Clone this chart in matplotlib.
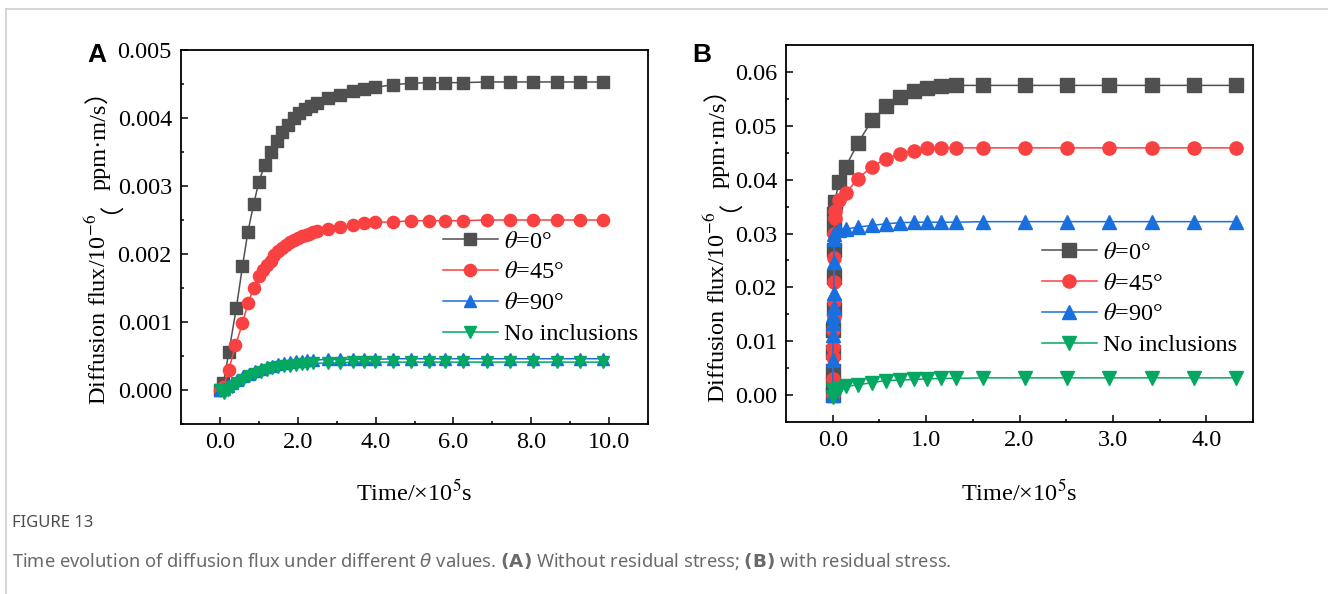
import matplotlib
matplotlib.use("Agg")
import matplotlib.pyplot as plt
from matplotlib.ticker import MultipleLocator, FormatStrFormatter
from matplotlib.lines import Line2D

plt.rcParams.update({
    "font.family": ["Liberation Serif", "Noto Sans CJK SC"],
    "mathtext.fontset": "stix",
    "axes.linewidth": 1.3,
})

# ---- data: panel A (without residual stress), time in 1e5 s ----
tA_0 = [0, 0.09, 0.23, 0.42, 0.58, 0.72, 0.87, 1.0, 1.15, 1.31, 1.46, 1.6, 1.75, 1.9,
        2.04, 2.19, 2.34, 2.49, 2.78, 3.08, 3.41, 3.69, 3.99, 4.44, 4.91, 5.36, 5.79,
        6.24, 6.87, 7.46, 8.04, 8.66, 9.25, 9.84]
fA_0 = [0, 0.0001, 0.00056, 0.0012, 0.00182, 0.00233, 0.00274, 0.00306, 0.00331, 0.0035,
        0.00366, 0.0038, 0.0039, 0.004, 0.00407, 0.00413, 0.00417, 0.00422, 0.00429,
        0.00434, 0.00439, 0.00443, 0.00445, 0.00449, 0.00451, 0.00452, 0.00452, 0.00452,
        0.00453, 0.00453, 0.00453, 0.00453, 0.00453, 0.00453]

tA_45 = [0, 0.09, 0.23, 0.40, 0.58, 0.72, 0.87, 1.0, 1.1, 1.2, 1.3, 1.4, 1.5, 1.6, 1.7,
         1.8, 1.9, 2.0, 2.1, 2.2, 2.3, 2.4, 2.5, 2.78, 3.08, 3.41, 3.69, 3.99, 4.44, 4.91,
         5.36, 5.79, 6.24, 6.87, 7.46, 8.04, 8.66, 9.25, 9.84]
fA_45 = [0, 0.00005, 0.0003, 0.00066, 0.00098, 0.00128, 0.0015, 0.00167, 0.00176, 0.00184,
         0.0019, 0.00198, 0.00204, 0.00209, 0.00213, 0.00217, 0.0022, 0.00223, 0.00226,
         0.00228, 0.0023, 0.00232, 0.00234, 0.00237, 0.0024, 0.00242, 0.00245, 0.00247,
         0.00247, 0.00249, 0.00249, 0.00249, 0.00249, 0.0025, 0.0025, 0.0025, 0.0025,
         0.0025, 0.0025]

tA_low = [0, 0.1, 0.2, 0.3, 0.45, 0.6, 0.75, 0.9, 1.05, 1.2, 1.35, 1.5, 1.65, 1.8, 1.95,
          2.1, 2.25, 2.4, 2.78, 3.08, 3.41, 3.69, 3.99, 4.44, 4.91, 5.36, 5.79, 6.24,
          6.87, 7.46, 8.04, 8.66, 9.25, 9.84]
fA_90 = [0, 0.00002, 0.00006, 0.0001, 0.00015, 0.0002, 0.00024, 0.00028, 0.00031, 0.00034,
         0.00036, 0.00038, 0.0004, 0.00041, 0.00042, 0.00043, 0.00044, 0.00044, 0.00045,
         0.00045, 0.00045, 0.00045, 0.00045, 0.00046, 0.00046, 0.00046, 0.00046, 0.00046,
         0.00046, 0.00046, 0.00046, 0.00046, 0.00046, 0.00046]
fA_ni = [0, -0.00004, 0.0, 0.00005, 0.0001, 0.00015, 0.0002, 0.00024, 0.00027, 0.0003,
         0.00032, 0.00034, 0.00035, 0.00036, 0.00037, 0.00038, 0.00038, 0.00039, 0.0004,
         0.0004, 0.00041, 0.00041, 0.00041, 0.00041, 0.00041, 0.00041, 0.00041, 0.00041,
         0.00041, 0.00041, 0.00041, 0.00041, 0.00041, 0.00041]

# ---- data: panel B (with residual stress) ----
tB_tail = [0.07, 0.14, 0.27, 0.42, 0.57, 0.72, 0.87, 1.01, 1.16, 1.32, 1.61, 2.06, 2.51,
           2.96, 3.42, 3.87, 4.32]
tB_0 = [0, 0.002, 0.004, 0.006, 0.008, 0.01, 0.012, 0.014, 0.016, 0.018, 0.02] + tB_tail
fB_0 = [0, 0.002, 0.0045, 0.008, 0.012, 0.016, 0.022, 0.027, 0.031, 0.0336, 0.0359,
        0.0396, 0.0424, 0.0468, 0.051, 0.0536, 0.0553, 0.0565, 0.0571, 0.0573, 0.0575,
        0.0575, 0.0575, 0.0575, 0.0575, 0.0575, 0.0575, 0.0575]
tB_45 = [0, 0.002, 0.004, 0.006, 0.008, 0.01, 0.012, 0.014, 0.016, 0.018, 0.02, 0.022] + tB_tail
fB_45 = [0, 0.003, 0.007, 0.009, 0.012, 0.0145, 0.0175, 0.021, 0.0255, 0.030, 0.0328, 0.0342,
         0.0362, 0.0375, 0.0402, 0.0424, 0.0439, 0.0448, 0.0453, 0.0458, 0.0459, 0.0459,
         0.0459, 0.0459, 0.0459, 0.0459, 0.0459, 0.0459, 0.0459]
tB_90 = [0, 0.002, 0.004, 0.006, 0.008, 0.01, 0.012, 0.014, 0.016, 0.018] + tB_tail
fB_90 = [0, 0.0065, 0.0111, 0.0134, 0.0148, 0.0163, 0.0189, 0.0247, 0.029, 0.0300,
         0.0306, 0.0308, 0.0312, 0.0315, 0.0318, 0.032, 0.0321, 0.0321, 0.0321, 0.0321,
         0.0322, 0.0322, 0.0322, 0.0322, 0.0322, 0.0322, 0.0322]
tB_ni = [0, 0.004] + tB_tail
fB_ni = [0.0009, -0.0003, 0.0012, 0.0016, 0.0019, 0.0023, 0.0027, 0.0028, 0.0029, 0.003,
         0.0031, 0.0031, 0.0032, 0.0032, 0.0032, 0.0032, 0.0032, 0.0032, 0.0032]

labels = [r"$\theta$=0°", r"$\theta$=45°", r"$\theta$=90°", "No inclusions"]
colors = ["#505050", "#F94141", "#1A6FDF", "#04A862"]
markers = ["s", "o", "^", "v"]

FS = 17.5

fig = plt.figure(figsize=(13.28, 5.94), dpi=100)

# light frame of the figure page
fig.add_artist(Line2D([6 / 1328, 1], [1 - 9 / 594, 1 - 9 / 594], color="#cfcfcf", lw=1.2))
fig.add_artist(Line2D([6 / 1328, 6 / 1328], [0, 1 - 9 / 594], color="#cfcfcf", lw=1.2))

axA = fig.add_axes([181 / 1328, 1 - 424 / 594, 467 / 1328, 374 / 594])
axB = fig.add_axes([786 / 1328, 1 - 422 / 594, 467 / 1328, 377 / 594])

seriesA = [(tA_0, fA_0), (tA_45, fA_45), (tA_low, fA_90), (tA_low, fA_ni)]
seriesB = [(tB_0, fB_0), (tB_45, fB_45), (tB_90, fB_90), (tB_ni, fB_ni)]

for ax, series, ms in [(axA, seriesA, 8.8), (axB, seriesB, 9.5)]:
    for (t, f), lab, c, m in zip(series, labels, colors, markers):
        ax.plot(t, f, color=c, marker=m, ms=ms, lw=1.1, mec=c, label=lab)
    ax.tick_params(which="both", direction="in", width=1.1, labelsize=FS, top=False, right=False)
    ax.tick_params(which="major", length=5)
    ax.tick_params(which="minor", length=2.5)
    ax.tick_params(axis="y", pad=6.5)
    ax.tick_params(axis="x", pad=6)
    ax.xaxis.set_major_formatter(FormatStrFormatter("%.1f"))
    ax.set_xlabel(r"Time/×10$^5$s", fontsize=FS, va="center")

axA.set_xlim(-1, 11)
axA.set_ylim(-0.0005, 0.005)
axA.xaxis.set_major_locator(MultipleLocator(2))
axA.xaxis.set_minor_locator(MultipleLocator(1))
axA.yaxis.set_major_locator(MultipleLocator(0.001))
axA.yaxis.set_minor_locator(MultipleLocator(0.0005))
axA.yaxis.set_major_formatter(FormatStrFormatter("%.3f"))
axA.xaxis.set_label_coords(0.5, -0.182)

axB.set_xlim(-0.5, 4.5)
axB.set_ylim(-0.005, 0.065)
axB.xaxis.set_major_locator(MultipleLocator(1))
axB.xaxis.set_minor_locator(MultipleLocator(0.5))
axB.yaxis.set_major_locator(MultipleLocator(0.01))
axB.yaxis.set_minor_locator(MultipleLocator(0.005))
axB.yaxis.set_major_formatter(FormatStrFormatter("%.2f"))
axB.xaxis.set_label_coords(0.5, -0.186)

for ax, anchor in [(axA, (0.561, 0.364)), (axB, (0.548, 0.326))]:
    ax.legend(loc="center left", bbox_to_anchor=anchor, frameon=False, fontsize=FS,
              handlelength=2.26, handletextpad=0.25, labelspacing=0.36,
              borderpad=0, borderaxespad=0)

# y labels stacked from single-font pieces (full-width brackets from the CJK font)
SERIF = "Liberation Serif"
CJK = "Noto Sans CJK SC"
ylab_pieces = [(r"Diffusion flux/10$^{-6}$", SERIF), ("（", CJK), ("ppm·m/s", SERIF), ("）", CJK)]
ylab_sets = []
for ax, xb, yc in [(axA, -0.1606, 0.487), (axB, -0.1306, 0.483)]:
    texts = []
    for s, fam in ylab_pieces:
        texts.append(ax.text(xb, 0, s, transform=ax.transAxes, rotation=90,
                             rotation_mode="anchor", ha="left", va="baseline",
                             fontsize=FS, family=fam))
    ylab_sets.append((ax, texts, yc))

fig.canvas.draw()
rend = fig.canvas.get_renderer()
for ax, texts, yc in ylab_sets:
    hs = [t.get_window_extent(rend).height / ax.bbox.height for t in texts]
    y = yc - sum(hs) / 2
    for t, h in zip(texts, hs):
        t.set_y(y)
        y += h

fig.text(97 / 1328, 1 - 55 / 594, "A", fontsize=19, fontweight="bold",
         family="Liberation Sans", ha="center", va="center")
fig.text(702 / 1328, 1 - 55 / 594, "B", fontsize=19, fontweight="bold",
         family="Liberation Sans", ha="center", va="center")

# caption
fig.text(12 / 1328, 1 - 523 / 594, "FIGURE 13", fontsize=12, color="#4d4d4d",
         family="Noto Sans", ha="left", va="center")
fig.text(12 / 1328, 1 - 561 / 594,
         r"Time evolution of diffusion flux under different $\it{\theta}$ values. "
         r"$\bf{(A)}$ Without residual stress; $\bf{(B)}$ with residual stress.",
         fontsize=13.2, color="#6a6a6a", family="Noto Sans",
         math_fontfamily="dejavusans", ha="left", va="center")

fig.savefig("out.png", dpi=100)
